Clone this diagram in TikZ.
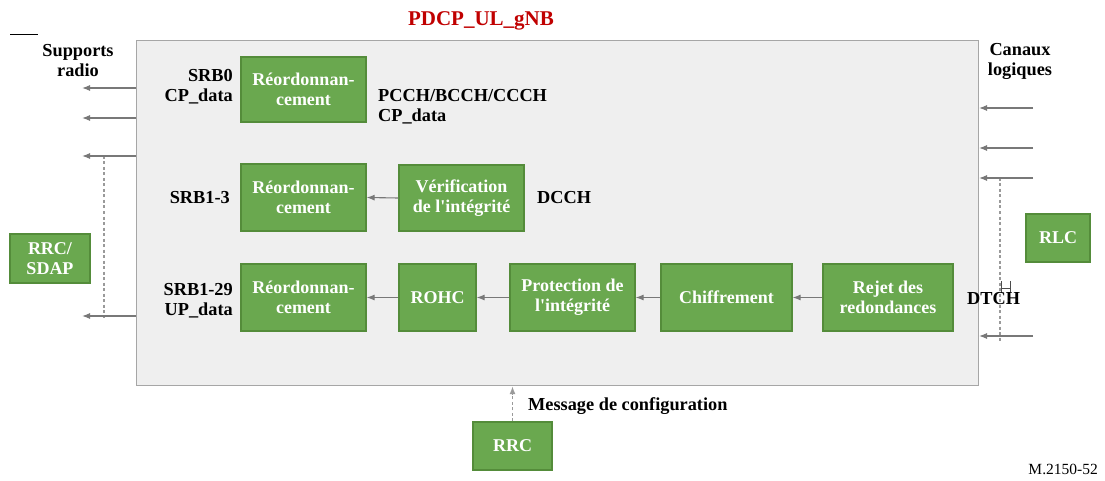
\documentclass[tikz,border=0pt]{standalone}
\usepackage{fontspec}
\setmainfont{Liberation Serif}[Ligatures=TeXOff]
\usetikzlibrary{arrows.meta,calc}
\definecolor{gfill}{RGB}{106,168,79}
\definecolor{gdraw}{RGB}{84,140,58}
\definecolor{panel}{RGB}{239,239,239}
\definecolor{panelb}{RGB}{166,166,166}
\definecolor{arr}{RGB}{120,120,120}
\definecolor{titlered}{RGB}{192,0,0}
\tikzset{
  gbox/.style={draw=gdraw, line width=1.2pt, fill=gfill, text=white, font=\fontsize{18}{20}\selectfont\bfseries, align=center, inner sep=2pt},
  lbl/.style={font=\fontsize{18.3}{20}\selectfont\bfseries, align=center, inner sep=0pt},
  conn/.style={draw=arr, line width=1.1pt, -{Latex[length=8pt,width=6pt]}},
  dline/.style={draw=arr!75, line width=1.3pt, dash pattern=on 3pt off 2.5pt},
}
\begin{document}
\begin{tikzpicture}[x=1pt,y=-1pt]
\useasboundingbox (0,0) rectangle (1105,481);
% panel
\node[draw=panelb, line width=1.2pt, fill=panel, minimum width=842pt, minimum height=345pt, inner sep=0pt, anchor=north west] (panel) at (136,40) {};
\node[font=\fontsize{21}{24}\selectfont\bfseries, text=titlered, inner sep=0pt] (title) at (481,21) {PDCP\_UL\_gNB};
\coordinate (t1) at (10,35); \coordinate (t2) at (38,35);
\draw[line width=1pt] (t1) -- (t2);
% green boxes
\node[gbox, minimum width=125pt, minimum height=65pt] (r1) at (303.5,89.5) {Réordonnan-\\cement};
\node[gbox, minimum width=125pt, minimum height=67pt] (r2) at (303.5,197.5) {Réordonnan-\\cement};
\node[gbox, minimum width=125pt, minimum height=66pt] (ver) at (461.5,198) {Vérification\\de l'intégrité};
\node[gbox, minimum width=125pt, minimum height=67pt] (r3) at (303.5,297.5) {Réordonnan-\\cement};
\node[gbox, minimum width=77pt, minimum height=67pt] (rohc) at (437.5,297.5) {ROHC};
\node[gbox, minimum width=125pt, minimum height=67pt] (prot) at (572.5,297.5) {Protection de\\l'intégrité};
\node[gbox, minimum width=131pt, minimum height=67pt] (chif) at (726.5,297.5) {Chiffrement};
\node[gbox, minimum width=130pt, minimum height=67pt] (rej) at (888,297.5) {Rejet des\\redondances};
\node[gbox, minimum width=80pt, minimum height=49pt] (sdap) at (50,258.5) {RRC/\\SDAP};
\node[gbox, minimum width=64pt, minimum height=48pt] (rlc) at (1058,238) {RLC};
\node[gbox, minimum width=79pt, minimum height=48pt] (rrc) at (512.5,446) {RRC};
% internal connectors
\draw[conn] (ver.west) -- (r2.east);
\draw[conn] (rej.west) -- (chif.east);
\draw[conn] (chif.west) -- (prot.east);
\draw[conn] (prot.west) -- (rohc.east);
\draw[conn] (rohc.west) -- (r3.east);
% labels
\node[lbl, align=right, anchor=east] (l0) at (233,87) {SRB0\\CP\_data};
\node[lbl, anchor=east] (l1) at (230,198) {SRB1-3};
\node[lbl, align=right, anchor=east] (l2) at (233,301) {SRB1-29\\UP\_data};
\node[lbl, align=left, anchor=west] (l3) at (378,107) {PCCH/BCCH/CCCH\\CP\_data};
\node[lbl, anchor=west] (l4) at (537,198) {DCCH};
\node[lbl, anchor=west] (l5) at (967,299) {DTCH};
\node[lbl] (sr) at (78,61) {Supports\\radio};
\node[lbl] (cl) at (1020,61) {Canaux\\logiques};
\node[lbl, anchor=west] (msg) at (528,406) {Message de configuration};
\node[font=\fontsize{15.5}{18}\selectfont, anchor=east, inner sep=0pt] (ref) at (1098,469) {M.2150-52};
% left side connectors
\coordinate (a1) at (136,88);  \coordinate (b1) at (82,88);
\coordinate (a2) at (136,118); \coordinate (b2) at (82,118);
\coordinate (a3) at (136,156); \coordinate (b3) at (82,156);
\coordinate (a4) at (136,316); \coordinate (b4) at (82,316);
\coordinate (v1) at (104,156); \coordinate (v2) at (104,318);
\draw[dline] (v1) -- (v2);
\draw[conn] (a1) -- (b1);
\draw[conn] (a2) -- (b2);
\draw[conn] (a3) -- (b3);
\draw[conn] (a4) -- (b4);
% right side connectors
\coordinate (c1) at (1033,108); \coordinate (d1) at (979,108);
\coordinate (c2) at (1033,148); \coordinate (d2) at (979,148);
\coordinate (c3) at (1033,178); \coordinate (d3) at (979,178);
\coordinate (c4) at (1033,336); \coordinate (d4) at (979,336);
\coordinate (w1) at (1000,178); \coordinate (w2) at (1000,341);
\draw[dline] (w1) -- (w2);
\draw[conn] (c1) -- (d1);
\draw[conn] (c2) -- (d2);
\draw[conn] (c3) -- (d3);
\draw[conn] (c4) -- (d4);
% small H mark
\coordinate (h1) at (1001,281); \coordinate (h2) at (1001,292);
\coordinate (h3) at (1010,281); \coordinate (h4) at (1010,292);
\draw[line width=0.8pt, black!70] (h1) -- (h2) (h3) -- (h4) ($(h1)!0.7!(h2)$) -- ($(h3)!0.7!(h4)$);
% RRC config
\draw[dline, -{Latex[length=8pt,width=6pt]}] (rrc.north) -- (rrc.north |- panel.south);
\end{tikzpicture}
\end{document}
